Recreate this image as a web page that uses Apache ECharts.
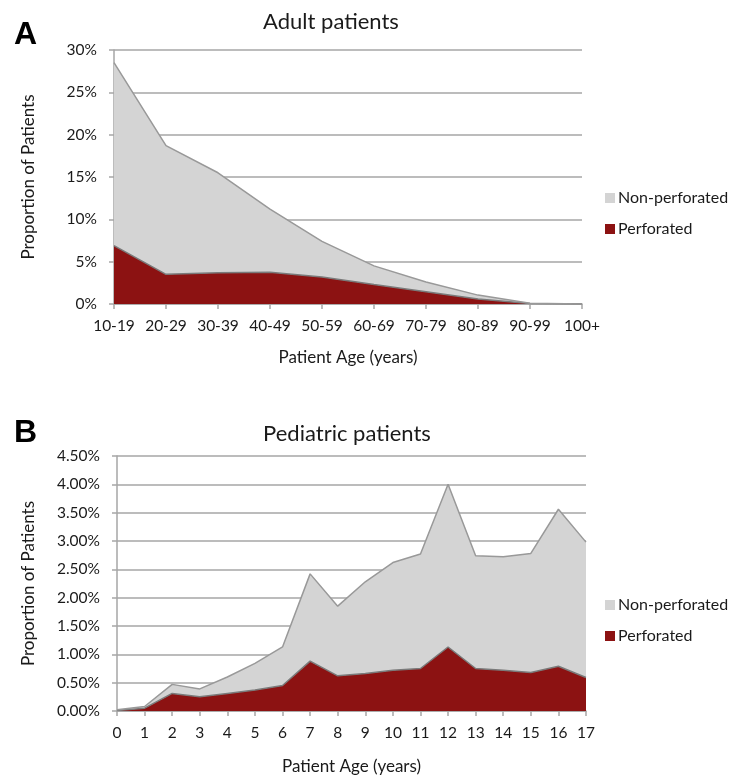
<!DOCTYPE html>
<html>
<head>
<meta charset="utf-8">
<script src="https://cdn.jsdelivr.net/npm/echarts@6/dist/echarts.min.js"></script>
<style>html,body{margin:0;padding:0;background:#fff}#c{width:735px;height:781px}</style>
</head>
<body>
<div id="c"></div>
<script>
// Panel A: adult patients (percent)
const adultAges = ['10-19','20-29','30-39','40-49','50-59','60-69','70-79','80-89','90-99','100+'];
const adultPerforated = [6.9, 3.5, 3.7, 3.75, 3.2, 2.3, 1.45, 0.6, 0.05, 0];
const adultNonPerforated = [21.6, 15.2, 11.8, 7.45, 4.2, 2.2, 1.15, 0.45, 0.05, 0];
const adultTicks = [0, 5, 10, 15, 20, 25, 30];

// Panel B: pediatric patients (percent)
const pedAges = ['0','1','2','3','4','5','6','7','8','9','10','11','12','13','14','15','16','17'];
const pedPerforated = [0.01, 0.05, 0.31, 0.25, 0.31, 0.37, 0.45, 0.88, 0.62, 0.66, 0.72, 0.75, 1.13, 0.75, 0.72, 0.68, 0.79, 0.59];
const pedNonPerforated = [0.01, 0.03, 0.16, 0.14, 0.29, 0.47, 0.68, 1.54, 1.23, 1.62, 1.90, 2.02, 2.87, 1.99, 2.00, 2.10, 2.77, 2.39];
const pedTicks = [0, 0.5, 1, 1.5, 2, 2.5, 3, 3.5, 4, 4.5];

const FONT = 'Lato';
const RED = '#8c1212';
const GRAY = '#d4d4d4';
const LINE = '#999999';
const AX = '#a6a6a6';
const TXT = '#1a1a1a';

function xAxis(idx, data, gap) {
  return {
    type: 'category', gridIndex: idx, data: data, boundaryGap: false,
    name: 'Patient Age (years)', nameLocation: 'middle', nameGap: gap,
    nameTextStyle: {fontFamily: FONT, fontSize: 17, color: TXT},
    axisLine: {lineStyle: {color: AX, width: 1.5}},
    axisTick: {show: true, alignWithLabel: true, length: 5, lineStyle: {color: AX, width: 1.5}},
    axisLabel: {fontFamily: FONT, fontSize: 15.5, color: TXT, margin: 14, interval: 0}
  };
}
function yAxis(idx, ticks, dec, gap) {
  return {
    type: 'value', gridIndex: idx, min: ticks[0], max: ticks[ticks.length - 1],
    interval: ticks[1] - ticks[0],
    name: 'Proportion of Patients', nameLocation: 'middle', nameGap: gap,
    nameTextStyle: {fontFamily: FONT, fontSize: 17, color: TXT},
    axisLine: {show: true, lineStyle: {color: AX, width: 1.5}},
    axisTick: {show: true, length: 5, lineStyle: {color: AX, width: 1.5}},
    splitLine: {show: true, lineStyle: {color: AX, width: 1.5}},
    axisLabel: {fontFamily: FONT, fontSize: 15.5, color: TXT, margin: 17,
      formatter: v => v.toFixed(dec) + '%'}
  };
}
function area(name, data, idx, stack, color, lineColor) {
  return {
    type: 'line', name: name, xAxisIndex: idx, yAxisIndex: idx, stack: stack,
    data: data, symbol: 'none', smooth: false,
    lineStyle: {color: lineColor, width: 1.5},
    areaStyle: {color: color, opacity: 1},
    itemStyle: {color: color, borderColor: lineColor},
    emphasis: {disabled: true}
  };
}
function legend(top) {
  return {
    data: ['Non-perforated', 'Perforated'], orient: 'vertical', left: 600, top: top,
    icon: 'rect', itemWidth: 10, itemHeight: 10, itemGap: 15,
    textStyle: {fontFamily: FONT, fontSize: 16, color: TXT, padding: [0, 0, 0, -2]}
  };
}

const chart = echarts.init(document.getElementById('c'), null, {renderer: 'canvas'});
chart.setOption({
  animation: false,
  title: [
    {text: 'Adult patients', left: 326, top: 6, textAlign: 'center',
      textStyle: {fontFamily: FONT, fontSize: 22, fontWeight: 'normal', color: TXT}},
    {text: 'Pediatric patients', left: 342, top: 418, textAlign: 'center',
      textStyle: {fontFamily: FONT, fontSize: 22, fontWeight: 'normal', color: TXT}},
    {text: 'A', left: 9, top: 14, textStyle: {fontFamily: 'Liberation Sans', fontSize: 32, fontWeight: 'bold', color: '#000'}},
    {text: 'B', left: 9, top: 412, textStyle: {fontFamily: 'Liberation Sans', fontSize: 32, fontWeight: 'bold', color: '#000'}}
  ],
  legend: [legend(185), legend(592)],
  grid: [
    {left: 114, right: 153, top: 50, bottom: 477},
    {left: 117, right: 149, top: 456, bottom: 70}
  ],
  xAxis: [xAxis(0, adultAges, 45), xAxis(1, pedAges, 47)],
  yAxis: [yAxis(0, adultTicks, 0, 77), yAxis(1, pedTicks, 2, 80)],
  series: [
    area('Perforated', adultPerforated, 0, 'a', RED, '#7a7a7a'),
    area('Non-perforated', adultNonPerforated, 0, 'a', GRAY, LINE),
    area('Perforated', pedPerforated, 1, 'b', RED, '#7a7a7a'),
    area('Non-perforated', pedNonPerforated, 1, 'b', GRAY, LINE)
  ]
});
</script>
</body>
</html>
